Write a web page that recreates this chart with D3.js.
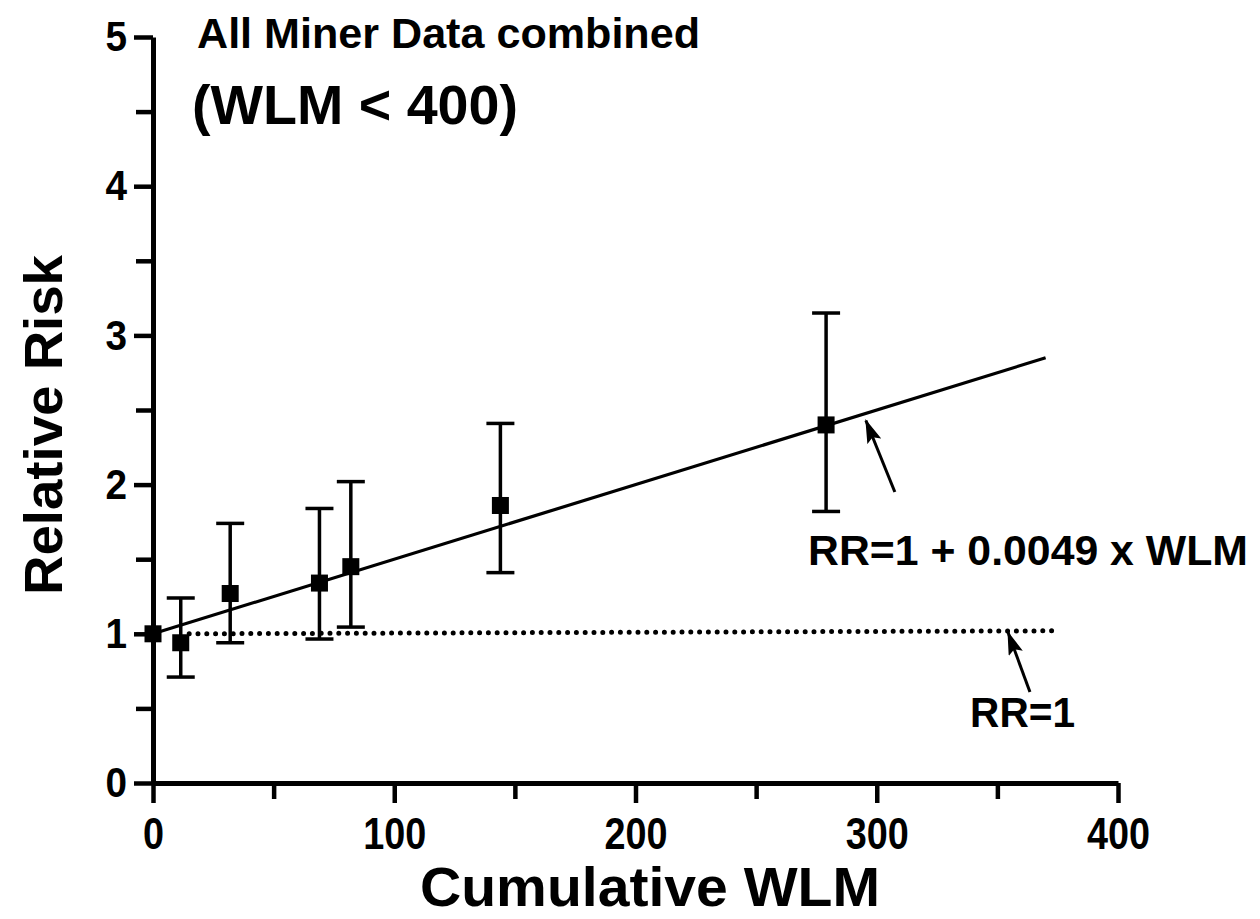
<!DOCTYPE html>
<html>
<head>
<meta charset="utf-8">
<script src="https://cdn.jsdelivr.net/npm/d3@7"></script>
<style>
body { margin: 0; background: #fff; }
text { font-family: "Liberation Sans", Arial, sans-serif; font-weight: bold; fill: #000; }
</style>
</head>
<body>
<div id="container"></div>
<script>
// data
var wlm = [0, 11.5, 32, 69, 82, 144, 279];
var rr = [1.0, 0.94, 1.27, 1.34, 1.45, 1.86, 2.40];
var rrLow = [1.0, 0.71, 0.94, 0.965, 1.045, 1.41, 1.82];
var rrHigh = [1.0, 1.24, 1.74, 1.84, 2.02, 2.41, 3.15];

// fitted line RR = 1 + 0.0049 x WLM, and the RR=1 reference
var fitX = [0, 370];
var fitY = [1.0, 2.85];
var refX = [15, 374];
var refY = [1.0, 1.02];

var xTicks = [0, 100, 200, 300, 400];
var xMinor = [50, 150, 250, 350];
var yTicks = [0, 1, 2, 3, 4, 5];
var yMinor = [0.5, 1.5, 2.5, 3.5, 4.5];

// annotation anchors, data units
var arrowFit = { tip: [295.5, 2.43], tail: [307.5, 1.95] };
var arrowRef = { tip: [354.4, 1.01], tail: [363.5, 0.61] };
var labelFit = { x: 271.5, y: 1.46, text: "RR=1 + 0.0049 x WLM" };
var labelRef = { x: 338.7, y: 0.375, text: "RR=1" };

const margin = { top: 37, right: 142, bottom: 136, left: 153 },
    W = 1260, H = 919,
    width = W - margin.left - margin.right,
    height = H - margin.top - margin.bottom;

var root = d3.select("#container")
    .append("svg")
    .attr("width", W)
    .attr("height", H);

var svg = root.append("g")
    .attr("transform", "translate(" + margin.left + "," + margin.top + ")");

var x = d3.scaleLinear().domain([0, 400]).range([0, width]);
var y = d3.scaleLinear().domain([0, 5]).range([height, 0]);

function squeeze(sel, k)
{
    sel.each(function ()
    {
        var w = this.getComputedTextLength();
        d3.select(this).attr("textLength", w * k).attr("lengthAdjust", "spacingAndGlyphs");
    });
}

// minor ticks
svg.append("g")
    .attr("transform", "translate(0," + height + ")")
    .call(d3.axisBottom(x).tickValues(xMinor).tickSize(16).tickFormat(""))
    .call(g => g.select(".domain").remove());
svg.append("g")
    .call(d3.axisLeft(y).tickValues(yMinor).tickSize(17).tickFormat(""))
    .call(g => g.select(".domain").remove());

// major ticks
var xAxis = svg.append("g")
    .attr("transform", "translate(0," + height + ")")
    .call(d3.axisBottom(x).tickValues(xTicks).tickSize(20).tickPadding(14).tickSizeOuter(0));
var yAxis = svg.append("g")
    .call(d3.axisLeft(y).tickValues(yTicks).tickFormat(d3.format("d")).tickSize(19).tickPadding(7).tickSizeOuter(0));

svg.selectAll(".tick line").attr("stroke", "#000").attr("stroke-width", 4.5);
svg.selectAll(".domain").attr("stroke", "#000").attr("stroke-width", 5);

xAxis.selectAll("text").style("font-size", "45px").attr("dy", "0.71em");
yAxis.selectAll("text").style("font-size", "43px");
squeeze(xAxis.selectAll("text"), 0.84);
squeeze(yAxis.selectAll("text"), 0.9);

// reference RR=1 (dotted)
svg.append("path")
    .attr("d", d3.line().x(function (d) { return x(d[0]) }).y(function (d) { return y(d[1]) })(d3.zip(refX, refY)))
    .attr("fill", "none")
    .attr("stroke", "#000")
    .attr("stroke-width", 5)
    .attr("stroke-linecap", "round")
    .attr("stroke-dasharray", "0 8.8");

// fitted line
svg.append("path")
    .attr("d", d3.line().x(function (d) { return x(d[0]) }).y(function (d) { return y(d[1]) })(d3.zip(fitX, fitY)))
    .attr("fill", "none")
    .attr("stroke", "#000")
    .attr("stroke-width", 3.2);

// error bars
var pts = wlm.map(function (v, i) { return { x: v, y: rr[i], lo: rrLow[i], hi: rrHigh[i] }; });
var capW = 14;

var bars = svg.selectAll("g.err")
    .data(pts.filter(function (d) { return d.hi > d.lo; }))
    .enter()
    .append("g")
    .attr("class", "err")
    .attr("stroke", "#000")
    .attr("stroke-width", 3.5);

bars.append("line")
    .attr("x1", function (d) { return x(d.x) })
    .attr("x2", function (d) { return x(d.x) })
    .attr("y1", function (d) { return y(d.lo) })
    .attr("y2", function (d) { return y(d.hi) });
bars.append("line")
    .attr("x1", function (d) { return x(d.x) - capW })
    .attr("x2", function (d) { return x(d.x) + capW })
    .attr("y1", function (d) { return y(d.hi) })
    .attr("y2", function (d) { return y(d.hi) });
bars.append("line")
    .attr("x1", function (d) { return x(d.x) - capW })
    .attr("x2", function (d) { return x(d.x) + capW })
    .attr("y1", function (d) { return y(d.lo) })
    .attr("y2", function (d) { return y(d.lo) });

// square markers
var s = 17;
svg.selectAll("rect.pt")
    .data(pts)
    .enter()
    .append("rect")
    .attr("class", "pt")
    .attr("x", function (d) { return x(d.x) - s / 2 })
    .attr("y", function (d) { return y(d.y) - s / 2 })
    .attr("width", s)
    .attr("height", s)
    .attr("fill", "#000");

// arrows
root.append("defs").append("marker")
    .attr("id", "head")
    .attr("viewBox", "0 0 16 10")
    .attr("refX", 15)
    .attr("refY", 5)
    .attr("markerWidth", 8)
    .attr("markerHeight", 5)
    .attr("markerUnits", "strokeWidth")
    .attr("orient", "auto")
    .append("path")
    .attr("d", "M0,0 L16,5 L0,10 L3,5 Z")
    .attr("fill", "#000");

[arrowFit, arrowRef].forEach(function (a)
{
    svg.append("line")
        .attr("x1", x(a.tail[0]))
        .attr("y1", y(a.tail[1]))
        .attr("x2", x(a.tip[0]))
        .attr("y2", y(a.tip[1]))
        .attr("stroke", "#000")
        .attr("stroke-width", 3)
        .attr("marker-end", "url(#head)");
});

// annotation labels
svg.append("text")
    .attr("x", x(labelFit.x))
    .attr("y", y(labelFit.y))
    .style("font-size", "42px")
    .attr("textLength", 440)
    .attr("lengthAdjust", "spacingAndGlyphs")
    .text(labelFit.text);
svg.append("text")
    .attr("x", x(labelRef.x))
    .attr("y", y(labelRef.y))
    .style("font-size", "42px")
    .attr("textLength", 105)
    .attr("lengthAdjust", "spacingAndGlyphs")
    .text(labelRef.text);

// titles
root.append("text")
    .attr("x", 197)
    .attr("y", 48)
    .style("font-size", "42px")
    .attr("textLength", 503)
    .attr("lengthAdjust", "spacingAndGlyphs")
    .text("All Miner Data  combined");
root.append("text")
    .attr("x", 192)
    .attr("y", 124)
    .style("font-size", "56px")
    .attr("textLength", 326)
    .attr("lengthAdjust", "spacingAndGlyphs")
    .text("(WLM < 400)");

// axis titles
root.append("text")
    .attr("x", 650)
    .attr("y", 906)
    .attr("text-anchor", "middle")
    .style("font-size", "56px")
    .attr("textLength", 460)
    .attr("lengthAdjust", "spacingAndGlyphs")
    .text("Cumulative WLM");
root.append("text")
    .attr("transform", "translate(62,425) rotate(-90)")
    .attr("text-anchor", "middle")
    .style("font-size", "54px")
    .attr("textLength", 340)
    .attr("lengthAdjust", "spacingAndGlyphs")
    .text("Relative Risk");
</script>
</body>
</html>
